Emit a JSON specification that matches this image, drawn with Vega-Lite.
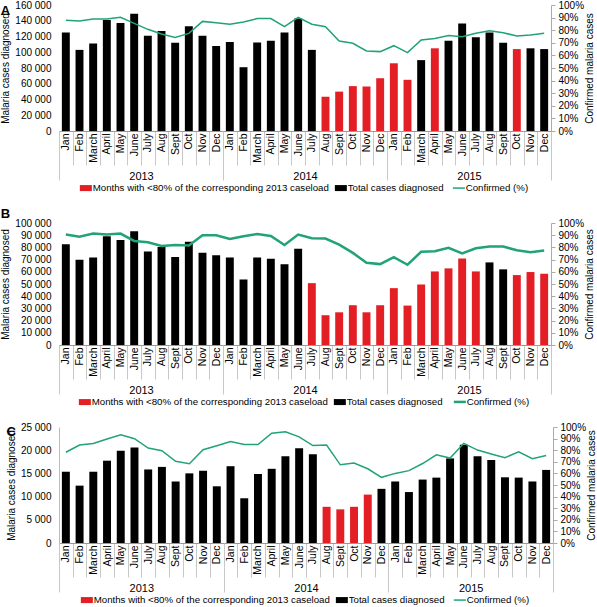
{
  "$schema": "https://vega.github.io/schema/vega-lite/v6.json",
  "padding": {"left": 0, "top": 0, "right": 0, "bottom": 0},
  "datasets": {
    "A": [
      {"m":"Jan 2013","c":125000,"p":0.878,"s":"total"},{"m":"Feb 2013","c":103000,"p":0.873,"s":"total"},{"m":"March 2013","c":111000,"p":0.889,"s":"total"},{"m":"April 2013","c":141000,"p":0.889,"s":"total"},{"m":"May 2013","c":137000,"p":0.902,"s":"total"},{"m":"June 2013","c":149000,"p":0.854,"s":"total"},{"m":"July 2013","c":121000,"p":0.807,"s":"total"},{"m":"Aug 2013","c":127000,"p":0.77,"s":"total"},{"m":"Sept 2013","c":112000,"p":0.743,"s":"total"},{"m":"Oct 2013","c":133000,"p":0.775,"s":"total"},{"m":"Nov 2013","c":121000,"p":0.87,"s":"total"},{"m":"Dec 2013","c":108000,"p":0.86,"s":"total"},
      {"m":"Jan 2014","c":113000,"p":0.847,"s":"total"},{"m":"Feb 2014","c":81000,"p":0.865,"s":"total"},{"m":"March 2014","c":112500,"p":0.892,"s":"total"},{"m":"April 2014","c":114500,"p":0.892,"s":"total"},{"m":"May 2014","c":125000,"p":0.828,"s":"total"},{"m":"June 2014","c":143000,"p":0.902,"s":"total"},{"m":"July 2014","c":103000,"p":0.847,"s":"total"},{"m":"Aug 2014","c":43500,"p":0.828,"s":"low"},{"m":"Sept 2014","c":50000,"p":0.714,"s":"low"},{"m":"Oct 2014","c":57000,"p":0.696,"s":"low"},{"m":"Nov 2014","c":56500,"p":0.635,"s":"low"},{"m":"Dec 2014","c":67000,"p":0.63,"s":"low"},
      {"m":"Jan 2015","c":86000,"p":0.677,"s":"low"},{"m":"Feb 2015","c":65000,"p":0.622,"s":"low"},{"m":"March 2015","c":90000,"p":0.722,"s":"total"},{"m":"April 2015","c":105000,"p":0.735,"s":"low"},{"m":"May 2015","c":114500,"p":0.757,"s":"total"},{"m":"June 2015","c":136500,"p":0.749,"s":"total"},{"m":"July 2015","c":119000,"p":0.775,"s":"total"},{"m":"Aug 2015","c":125000,"p":0.796,"s":"total"},{"m":"Sept 2015","c":112000,"p":0.78,"s":"total"},{"m":"Oct 2015","c":104000,"p":0.754,"s":"low"},{"m":"Nov 2015","c":105000,"p":0.762,"s":"total"},{"m":"Dec 2015","c":104000,"p":0.775,"s":"total"}
    ],
    "B": [
      {"m":"Jan 2013","c":82600,"p":0.905,"s":"total"},{"m":"Feb 2013","c":69800,"p":0.888,"s":"total"},{"m":"March 2013","c":71700,"p":0.913,"s":"total"},{"m":"April 2013","c":89100,"p":0.905,"s":"total"},{"m":"May 2013","c":86100,"p":0.913,"s":"total"},{"m":"June 2013","c":93200,"p":0.853,"s":"total"},{"m":"July 2013","c":76600,"p":0.842,"s":"total"},{"m":"Aug 2013","c":80400,"p":0.812,"s":"total"},{"m":"Sept 2013","c":72200,"p":0.82,"s":"total"},{"m":"Oct 2013","c":84700,"p":0.815,"s":"total"},{"m":"Nov 2013","c":75700,"p":0.899,"s":"total"},{"m":"Dec 2013","c":73600,"p":0.899,"s":"total"},
      {"m":"Jan 2014","c":71700,"p":0.869,"s":"total"},{"m":"Feb 2014","c":53700,"p":0.891,"s":"total"},{"m":"March 2014","c":71700,"p":0.91,"s":"total"},{"m":"April 2014","c":70600,"p":0.894,"s":"total"},{"m":"May 2014","c":66200,"p":0.82,"s":"total"},{"m":"June 2014","c":78800,"p":0.905,"s":"total"},{"m":"July 2014","c":50700,"p":0.875,"s":"low"},{"m":"Aug 2014","c":24400,"p":0.872,"s":"low"},{"m":"Sept 2014","c":26800,"p":0.823,"s":"low"},{"m":"Oct 2014","c":32600,"p":0.755,"s":"low"},{"m":"Nov 2014","c":26800,"p":0.674,"s":"low"},{"m":"Dec 2014","c":32600,"p":0.663,"s":"low"},
      {"m":"Jan 2015","c":46600,"p":0.72,"s":"low"},{"m":"Feb 2015","c":32300,"p":0.658,"s":"low"},{"m":"March 2015","c":49600,"p":0.764,"s":"low"},{"m":"April 2015","c":60300,"p":0.769,"s":"low"},{"m":"May 2015","c":62800,"p":0.796,"s":"low"},{"m":"June 2015","c":70900,"p":0.75,"s":"low"},{"m":"July 2015","c":60300,"p":0.793,"s":"low"},{"m":"Aug 2015","c":67700,"p":0.807,"s":"total"},{"m":"Sept 2015","c":62000,"p":0.807,"s":"total"},{"m":"Oct 2015","c":57300,"p":0.777,"s":"low"},{"m":"Nov 2015","c":59800,"p":0.761,"s":"low"},{"m":"Dec 2015","c":58400,"p":0.774,"s":"low"}
    ],
    "C": [
      {"m":"Jan 2013","c":15360,"p":0.782,"s":"total"},{"m":"Feb 2013","c":12360,"p":0.844,"s":"total"},{"m":"March 2013","c":15360,"p":0.858,"s":"total"},{"m":"April 2013","c":17740,"p":0.897,"s":"total"},{"m":"May 2013","c":19900,"p":0.933,"s":"total"},{"m":"June 2013","c":20600,"p":0.899,"s":"total"},{"m":"July 2013","c":15850,"p":0.818,"s":"total"},{"m":"Aug 2013","c":16400,"p":0.796,"s":"total"},{"m":"Sept 2013","c":13270,"p":0.704,"s":"total"},{"m":"Oct 2013","c":15010,"p":0.684,"s":"total"},{"m":"Nov 2013","c":15570,"p":0.804,"s":"total"},{"m":"Dec 2013","c":12220,"p":0.838,"s":"total"},
      {"m":"Jan 2014","c":16550,"p":0.874,"s":"total"},{"m":"Feb 2014","c":9640,"p":0.849,"s":"total"},{"m":"March 2014","c":14870,"p":0.849,"s":"total"},{"m":"April 2014","c":15990,"p":0.947,"s":"total"},{"m":"May 2014","c":18700,"p":0.958,"s":"total"},{"m":"June 2014","c":20400,"p":0.915,"s":"total"},{"m":"July 2014","c":19130,"p":0.84,"s":"total"},{"m":"Aug 2014","c":7800,"p":0.845,"s":"low"},{"m":"Sept 2014","c":7250,"p":0.674,"s":"low"},{"m":"Oct 2014","c":7800,"p":0.69,"s":"low"},{"m":"Nov 2014","c":10430,"p":0.64,"s":"low"},{"m":"Dec 2014","c":11670,"p":0.566,"s":"total"},
      {"m":"Jan 2015","c":13260,"p":0.6,"s":"total"},{"m":"Feb 2015","c":10980,"p":0.624,"s":"total"},{"m":"March 2015","c":13670,"p":0.685,"s":"total"},{"m":"April 2015","c":14090,"p":0.76,"s":"total"},{"m":"May 2015","c":18230,"p":0.732,"s":"total"},{"m":"June 2015","c":21200,"p":0.859,"s":"total"},{"m":"July 2015","c":18720,"p":0.801,"s":"total"},{"m":"Aug 2015","c":17890,"p":0.768,"s":"total"},{"m":"Sept 2015","c":14160,"p":0.735,"s":"total"},{"m":"Oct 2015","c":14090,"p":0.787,"s":"total"},{"m":"Nov 2015","c":13260,"p":0.727,"s":"total"},{"m":"Dec 2015","c":15750,"p":0.754,"s":"total"}
    ],
    "years": [{"yr":"2013"},{"yr":"2014"},{"yr":"2015"}]
  },
  "concat": [
    {
      "title": {"text": "A", "offset": -13, "dy": 5},
      "width": 492, "height": 126,
      "layer": [
        {
          "data": {"name": "A"},
          "layer": [
            {
              "mark": {"type": "bar", "width": {"band": 0.58}},
              "encoding": {
                "x": {"field": "m", "type": "nominal", "sort": null, "scale": {"type": "band", "paddingInner": 0, "paddingOuter": 0},
                      "axis": {"title": null, "labelAngle": 270, "labelExpr": "datum.value ? split(datum.value, ' ')[0] : ''", "tickBand": "extent", "tickSize": 34, "labelPadding": -32, "tickColor": "#c8c8c8", "domainColor": "#999", "labelFontSize": 10.5}},
                "y": {"field": "c", "type": "quantitative", "scale": {"domain": [0, 160000]},
                      "axis": {"title": "Malaria cases diagnosed", "values": [0,20000,40000,60000,80000,100000,120000,140000,160000], "grid": false, "domain": false, "ticks": false, "labelPadding": 8, "titlePadding": 4, "labelExpr": "replace(format(datum.value, ','), regexp(',', 'g'), ' ')"}},
                "color": {"field": "s", "type": "nominal", "scale": {"domain": ["low", "total", "conf"], "range": ["#e31e24", "#000000", "#21a377"]},
                          "legend": {"labelExpr": "datum.value == 'low' ? 'Months with <80% of the corresponding 2013 caseload' : datum.value == 'total' ? 'Total cases diagnosed' : 'Confirmed (%)'",
                                     "encode": {"symbols": {"update": {"shape": {"signal": "datum.value == 'conf' ? 'stroke' : 'M-1,-0.5H1V0.5H-1Z'"}, "stroke": {"signal": "datum.value == 'conf' ? '#21a377' : 'transparent'"}, "strokeWidth": {"signal": "datum.value == 'conf' ? 1.5 : 0"}}}}}}
              }
            },
            {
              "mark": {"type": "line", "strokeWidth": 1.5},
              "encoding": {
                "x": {"field": "m", "type": "nominal", "sort": null},
                "y": {"field": "p", "type": "quantitative", "scale": {"domain": [0, 1]},
                      "axis": {"orient": "right", "title": "Confirmed malaria cases", "titleAngle": 270, "titleBaseline": "top", "format": ".0%", "values": [0,0.1,0.2,0.3,0.4,0.5,0.6,0.7,0.8,0.9,1], "grid": false, "domainColor": "#aaa", "tickColor": "#aaa", "tickSize": 4, "labelPadding": 3, "titlePadding": 1}},
                "color": {"datum": "conf", "type": "nominal"}
              }
            }
          ],
          "resolve": {"scale": {"y": "independent"}}
        },
        {
          "data": {"name": "years"},
          "mark": {"type": "bar", "opacity": 0},
          "encoding": {
            "x": {"field": "yr", "type": "nominal", "scale": {"type": "band", "paddingInner": 0, "paddingOuter": 0},
                  "axis": {"orient": "bottom", "title": null, "labelAngle": 0, "tickBand": "extent", "tickSize": 49, "labelPadding": -10, "labelBaseline": "top", "domain": false, "tickColor": "#c8c8c8", "labelFontSize": 11}}
          }
        }
      ],
      "resolve": {"scale": {"x": "independent"}}
    },
    {
      "title": {"text": "B", "offset": -3},
      "width": 492, "height": 122,
      "layer": [
        {
          "data": {"name": "B"},
          "layer": [
            {
              "mark": {"type": "bar", "width": {"band": 0.58}},
              "encoding": {
                "x": {"field": "m", "type": "nominal", "sort": null, "scale": {"type": "band", "paddingInner": 0, "paddingOuter": 0},
                      "axis": {"title": null, "labelAngle": 270, "labelExpr": "datum.value ? split(datum.value, ' ')[0] : ''", "tickBand": "extent", "tickSize": 34, "labelPadding": -32, "tickColor": "#c8c8c8", "domainColor": "#999", "labelFontSize": 10.5}},
                "y": {"field": "c", "type": "quantitative", "scale": {"domain": [0, 100000]},
                      "axis": {"title": "Malaria cases diagnosed", "values": [0,10000,20000,30000,40000,50000,60000,70000,80000,90000,100000], "grid": false, "domain": false, "ticks": false, "labelPadding": 8, "titlePadding": 4, "labelExpr": "replace(format(datum.value, ','), regexp(',', 'g'), ' ')"}},
                "color": {"field": "s", "type": "nominal", "scale": {"domain": ["low", "total", "conf"], "range": ["#e31e24", "#000000", "#21a377"]},
                          "legend": {"labelExpr": "datum.value == 'low' ? 'Months with <80% of the corresponding 2013 caseload' : datum.value == 'total' ? 'Total cases diagnosed' : 'Confirmed (%)'",
                                     "encode": {"symbols": {"update": {"shape": {"signal": "datum.value == 'conf' ? 'stroke' : 'M-1,-0.5H1V0.5H-1Z'"}, "stroke": {"signal": "datum.value == 'conf' ? '#21a377' : 'transparent'"}, "strokeWidth": {"signal": "datum.value == 'conf' ? 2.5 : 0"}}}}}}
              }
            },
            {
              "mark": {"type": "line", "strokeWidth": 2.5},
              "encoding": {
                "x": {"field": "m", "type": "nominal", "sort": null},
                "y": {"field": "p", "type": "quantitative", "scale": {"domain": [0, 1]},
                      "axis": {"orient": "right", "title": "Confirmed malaria cases", "titleAngle": 270, "titleBaseline": "top", "format": ".0%", "values": [0,0.1,0.2,0.3,0.4,0.5,0.6,0.7,0.8,0.9,1], "grid": false, "domainColor": "#aaa", "tickColor": "#aaa", "tickSize": 4, "labelPadding": 3, "titlePadding": 1}},
                "color": {"datum": "conf", "type": "nominal"}
              }
            }
          ],
          "resolve": {"scale": {"y": "independent"}}
        },
        {
          "data": {"name": "years"},
          "mark": {"type": "bar", "opacity": 0},
          "encoding": {
            "x": {"field": "yr", "type": "nominal", "scale": {"type": "band", "paddingInner": 0, "paddingOuter": 0},
                  "axis": {"orient": "bottom", "title": null, "labelAngle": 0, "tickBand": "extent", "tickSize": 49, "labelPadding": -10, "labelBaseline": "top", "domain": false, "tickColor": "#c8c8c8", "labelFontSize": 11}}
          }
        }
      ],
      "resolve": {"scale": {"x": "independent"}}
    },
    {
      "title": {"text": "C", "offset": -13, "dy": 4},
      "width": 494, "height": 116,
      "layer": [
        {
          "data": {"name": "C"},
          "layer": [
            {
              "mark": {"type": "bar", "width": {"band": 0.58}},
              "encoding": {
                "x": {"field": "m", "type": "nominal", "sort": null, "scale": {"type": "band", "paddingInner": 0, "paddingOuter": 0},
                      "axis": {"title": null, "labelAngle": 270, "labelExpr": "datum.value ? split(datum.value, ' ')[0] : ''", "tickBand": "extent", "tickSize": 34, "labelPadding": -32, "tickColor": "#c8c8c8", "domainColor": "#999", "labelFontSize": 10.5}},
                "y": {"field": "c", "type": "quantitative", "scale": {"domain": [0, 25000]},
                      "axis": {"title": "Malaria cases diagnosed", "values": [0,5000,10000,15000,20000,25000], "grid": false, "domain": true, "domainColor": "#bbb", "ticks": false, "labelPadding": 8, "titlePadding": 4, "labelExpr": "replace(format(datum.value, ','), regexp(',', 'g'), ' ')"}},
                "color": {"field": "s", "type": "nominal", "scale": {"domain": ["low", "total", "conf"], "range": ["#e31e24", "#000000", "#21a377"]},
                          "legend": {"labelExpr": "datum.value == 'low' ? 'Months with <80% of the corresponding 2013 caseload' : datum.value == 'total' ? 'Total cases diagnosed' : 'Confirmed (%)'",
                                     "encode": {"symbols": {"update": {"shape": {"signal": "datum.value == 'conf' ? 'stroke' : 'M-1,-0.5H1V0.5H-1Z'"}, "stroke": {"signal": "datum.value == 'conf' ? '#21a377' : 'transparent'"}, "strokeWidth": {"signal": "datum.value == 'conf' ? 1.5 : 0"}}}}}}
              }
            },
            {
              "mark": {"type": "line", "strokeWidth": 1.5},
              "encoding": {
                "x": {"field": "m", "type": "nominal", "sort": null},
                "y": {"field": "p", "type": "quantitative", "scale": {"domain": [0, 1]},
                      "axis": {"orient": "right", "title": "Confirmed malaria cases", "titleAngle": 270, "titleBaseline": "top", "format": ".0%", "values": [0,0.1,0.2,0.3,0.4,0.5,0.6,0.7,0.8,0.9,1], "grid": false, "domainColor": "#aaa", "tickColor": "#aaa", "tickSize": 4, "labelPadding": 3, "titlePadding": 1}},
                "color": {"datum": "conf", "type": "nominal"}
              }
            }
          ],
          "resolve": {"scale": {"y": "independent"}}
        },
        {
          "data": {"name": "years"},
          "mark": {"type": "bar", "opacity": 0},
          "encoding": {
            "x": {"field": "yr", "type": "nominal", "scale": {"type": "band", "paddingInner": 0, "paddingOuter": 0},
                  "axis": {"orient": "bottom", "title": null, "labelAngle": 0, "tickBand": "extent", "tickSize": 49, "labelPadding": -10, "labelBaseline": "top", "domain": false, "tickColor": "#c8c8c8", "labelFontSize": 11}}
          }
        }
      ],
      "resolve": {"scale": {"x": "independent"}}
    }
  ],
  "columns": 1,
  "align": "none",
  "spacing": 15,
  "resolve": {"scale": {"color": "independent", "x": "independent", "y": "independent"}, "legend": {"color": "independent"}},
  "config": {
    "font": "Liberation Sans",
    "view": {"stroke": null},
    "title": {"anchor": "start", "frame": "bounds", "fontSize": 13, "fontWeight": "bold"},
    "axis": {"labelFontSize": 10, "titleFontSize": 10, "titleFontWeight": "normal", "labelColor": "#000", "titleColor": "#000"},
    "legend": {
      "orient": "bottom", "direction": "horizontal", "title": null, "labelFontSize": 9.7, "labelColor": "#000", "labelLimit": 400,
      "symbolSize": 144, "columnPadding": 5, "labelOffset": 2, "offset": 2,
      "layout": {"bottom": {"anchor": "middle"}}
    }
  }
}
